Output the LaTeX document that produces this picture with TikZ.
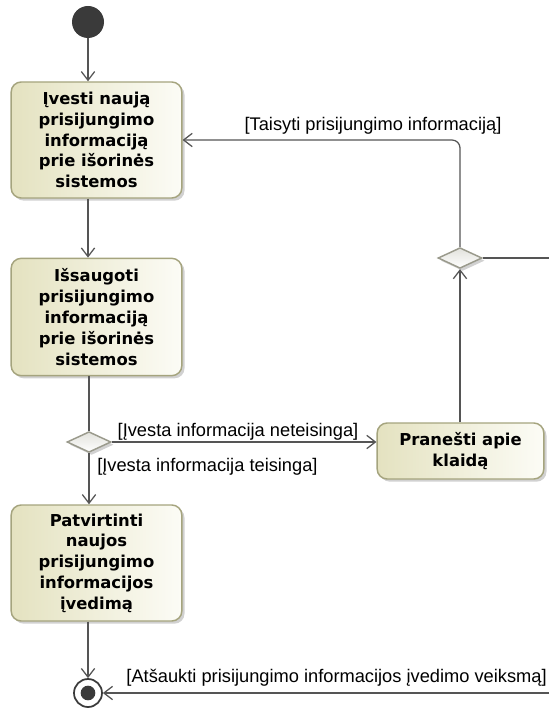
\documentclass[tikz,border=0pt]{standalone}
\usepackage{fontspec}
\setmainfont{Liberation Sans}
\newfontfamily\boxfont{DejaVu Sans}
\usetikzlibrary{arrows.meta,shadows,shapes.geometric}

\definecolor{linegray}{HTML}{555555}
\definecolor{boxedge}{HTML}{A5A47E}
\definecolor{boxleft}{HTML}{E4E2C0}
\definecolor{boxright}{HTML}{FCFCF6}
\definecolor{diaedge}{HTML}{9A9A8C}
\definecolor{diafill}{HTML}{E2E2DC}
\definecolor{nodedark}{HTML}{3A3A3A}

\tikzset{
  action/.style={draw=boxedge, line width=1.1pt, rounded corners=7.5pt,
    left color=boxleft, right color=boxright,
    drop shadow={shadow xshift=2pt, shadow yshift=-2pt, opacity=0.3, fill=black!60},
    align=center, inner sep=0pt,
    font=\boxfont\bfseries\fontsize{12.3}{15.6}\selectfont},
  decision/.style={diamond, draw=diaedge, line width=1.1pt,
    top color=diafill, bottom color=white,
    drop shadow={shadow xshift=2pt, shadow yshift=-2pt, opacity=0.3, fill=black!60},
    minimum width=33pt, minimum height=15.5pt, inner sep=0pt, aspect=2.1},
  flow/.style={draw=linegray, line width=0.95pt,
    -{Straight Barb[length=6.5pt,width=10pt,line width=0.95pt]}},
  plainflow/.style={draw=linegray, line width=0.95pt},
  guard/.style={font=\fontsize{13.7}{15}\selectfont, inner sep=0pt, text=black}
}

\begin{document}
\begin{tikzpicture}[x=0.75pt,y=-0.75pt]
  \useasboundingbox (0,0) rectangle (549,709);

  % start and end of the activity
  \node (start) [circle, fill=nodedark, minimum size=24pt, inner sep=0pt] at (88,22) {};
  \node (final) [circle, draw=nodedark, line width=1.3pt, fill=white,
                 minimum size=21pt, inner sep=0pt] at (88,693) {};
  \node (finaldot) [circle, fill=nodedark, minimum size=11pt, inner sep=0pt] at (final.center) {};

  % actions
  \node (enter) [action, minimum width=128pt, minimum height=87pt] at (96.5,140)
    {Įvesti naują\\prisijungimo\\informaciją\\prie išorinės\\sistemos};
  \node (save) [action, minimum width=128pt, minimum height=88pt] at (96.5,317)
    {Išsaugoti\\prisijungimo\\informaciją\\prie išorinės\\sistemos};
  \node (confirm) [action, minimum width=128pt, minimum height=87pt] at (96.5,563)
    {Patvirtinti\\naujos\\prisijungimo\\informacijos\\įvedimą};
  \node (error) [action, minimum width=125pt, minimum height=42pt] at (460.5,451)
    {Pranešti apie\\klaidą};

  % decisions
  \node (check) [decision] at (89,442) {};
  \node (retry) [decision] at (460,258) {};

  % loose ends on the right border and the bend of the loop back
  \coordinate (rightA) at (549,258);
  \coordinate (rightB) at (549,693);
  \coordinate (bend) at (460,140);

  % flows
  \draw[flow] (start) -- (start |- enter.north);
  \draw[flow] (enter.south -| start) -- (save.north -| start);
  \draw[plainflow] (save.south -| check) -- (check.north);
  \draw[flow] (check.south) -- (confirm.north -| check);
  \draw[flow] (check.east) -- (check.east -| error.west);
  \draw[flow] (error.north -| retry) -- (retry.south);
  \draw[flow, rounded corners=6pt] (retry.north) -- (bend) -- (bend -| enter.east);
  \draw[plainflow] (retry.east) -- (rightA);
  \draw[flow] (confirm.south -| final) -- (final.north);
  \draw[flow] (rightB) -- (final.east);

  % guards
  \node (gWrong) [guard] at (238,432) {[Įvesta informacija neteisinga]};
  \node (gRight) [guard, anchor=north west] at (97,458) {[Įvesta informacija teisinga]};
  \node (gFix) [guard] at (373,126) {[Taisyti prisijungimo informaciją]};
  \node (gCancel) [guard, anchor=east] at (547,678) {[Atšaukti prisijungimo informacijos įvedimo veiksmą]};
\end{tikzpicture}
\end{document}
